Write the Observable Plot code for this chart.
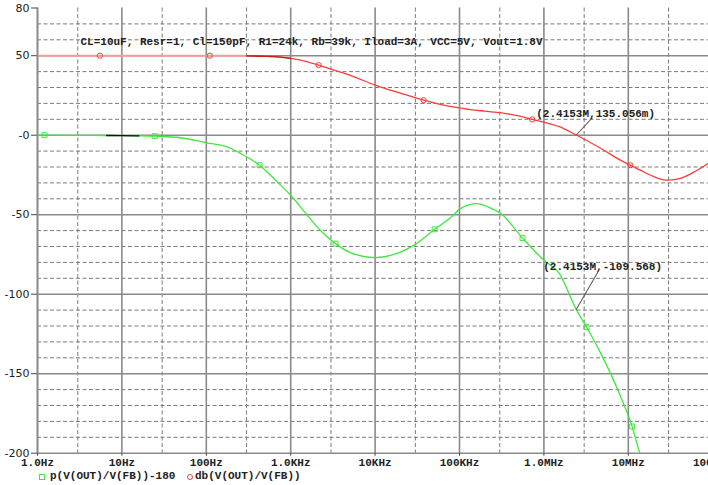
<!DOCTYPE html>
<html>
<head>
<meta charset="utf-8">
<script src="https://cdn.jsdelivr.net/npm/d3@7"></script>
<script src="https://cdn.jsdelivr.net/npm/@observablehq/plot@0.6"></script>
<style>
  html, body { margin: 0; padding: 0; background: #fff; overflow: hidden; width: 708px; height: 485px; }
  #chart svg { max-width: none !important; display: block; }
  #legend { position: relative; height: 15px; font: bold 11px "Liberation Mono", monospace; color: #222; }
  #legend span { position: absolute; top: 0; line-height: 13px; white-space: pre; }
  #legend i { position: absolute; top: 4px; width: 4px; height: 4px; border: 1px solid; }
</style>
</head>
<body>
<div id="chart"></div>
<div id="legend"></div>
<script>
// ---- data ----
const magFreq = [1, 10, 100, 200, 300, 500, 700, 1000, 1500, 2140, 3000, 5000, 10000, 20000, 37600, 60000, 100000, 135000, 200000, 316000, 500000, 728000, 1000000, 1500000, 2415300, 4700000, 8070000, 13900000, 20900000, 27500000, 41500000, 62500000, 88900000, 123000000];
const magDb   = [50, 50, 50, 50, 49.9, 49.6, 49.2, 48.3, 46.5, 44.1, 41.5, 37.8, 31.5, 26.4, 22.0, 19.3, 17.2, 16.1, 15.1, 14.0, 12.1, 9.9, 8.2, 5.5, 0.135, -8.2, -15.7, -22.0, -26.4, -28.3, -27.1, -22.7, -17.6, -12];

const phaseFreq = [1, 3, 6.6, 10, 15.9, 24.5, 50, 100, 180, 256, 428, 700, 1000, 1500, 2240, 3400, 5000, 10000, 20000, 28700, 50800, 80000, 102000, 162000, 220000, 309000, 559000, 1000000, 1500000, 2415300, 3200000, 4500000, 6200000, 8500000, 11100000, 13600000, 15000000];
const phaseDeg  = [0, -0.1, -0.2, -0.3, -0.4, -0.6, -1.6, -4.8, -7.5, -11.5, -18.9, -29.6, -37.8, -49, -59.8, -68.2, -73.7, -77, -73.5, -69.3, -59.2, -51.5, -46.2, -43, -45.2, -49.3, -64.7, -78.7, -86.5, -109.568, -120.7, -135, -150.1, -167, -183.2, -199.4, -206];

const magMarkerFreq = [5.48, 110, 2140, 37600, 728000, 10600000];
const magMarkerDb   = [50, 50, 44.1, 22.0, 9.9, -18.9];
const phaseMarkerFreq = [1.21, 24.5, 428, 3400, 50800, 559000, 3200000, 11100000];
const phaseMarkerDeg  = [0, -0.6, -18.9, -68.2, -59.2, -64.7, -120.7, -183.2];

const seriesNames = ["p(V(OUT)/V(FB))-180", "db(V(OUT)/V(FB))"];
const caption = "CL=10uF, Resr=1, Cl=150pF, R1=24k, Rb=39k, Iload=3A, VCC=5V, Vout=1.8V";
const cursorFreq = 2415300;
const cursorLabels = ["(2.4153M,135.056m)", "(2.4153M,-109.568)"];
const cursorValues = [0.135, -109.568];

const freqTicks = [1, 10, 100, 1e3, 1e4, 1e5, 1e6, 1e7, 1e8];
const freqTickLabels = ["1.0Hz", "10Hz", "100Hz", "1.0KHz", "10KHz", "100KHz", "1.0MHz", "10MHz", "100MHz"];
const minorFreq = [3, 30, 300, 3e3, 3e4, 3e5, 3e6, 3e7, 3e8];
const yTicks = [80, 50, 0, -50, -100, -150, -200];
const yTickLabels = ["80", "50", "-0", "-50", "-100", "-150", "-200"];
const majorY = [50, 0, -50, -100, -150, -200];
const minorY = [70, 60, 40, 30, 20, 10, -10, -20, -30, -40, -60, -70, -80, -90, -110, -120, -130, -140, -160, -170, -180, -190];

// ---- tables ----
const mag = magFreq.map((f, i) => ({f, v: magDb[i]}));
const phase = phaseFreq.map((f, i) => ({f, v: phaseDeg[i]}));
const magMarks = magMarkerFreq.map((f, i) => ({f, v: magMarkerDb[i]}));
const phaseMarks = phaseMarkerFreq.map((f, i) => ({f, v: phaseMarkerDeg[i]}));

const RED = "#ff3b3b", PINK = "#ff9a9a", GREEN = "#3fe83f";
const MONO = "Liberation Mono, monospace";
const decade = 84.4, left = 37, W = 760;

const chart = Plot.plot({
  width: W, height: 470,
  marginLeft: left, marginRight: 0, marginTop: 7.5, marginBottom: 17.3,
  x: {type: "log", domain: [1, Math.pow(10, (W - left) / decade)]},
  y: {domain: [-200, 80]},
  style: {background: "#fff", overflow: "hidden"},
  marks: [
    Plot.ruleY(minorY, {stroke: "#7a7a7a", strokeWidth: 1, strokeDasharray: "4,2.5"}),
    Plot.ruleX(minorFreq, {stroke: "#7a7a7a", strokeWidth: 1, strokeDasharray: "4,2.5"}),
    Plot.ruleY(majorY, {stroke: "#8a8a8a", strokeWidth: 1.6}),
    Plot.ruleX(freqTicks, {stroke: "#8a8a8a", strokeWidth: 1.6}),
    Plot.axisY(yTicks, {tickFormat: d => yTickLabels[yTicks.indexOf(d)], tickSize: 6, tickPadding: 2, fontSize: 11, fontFamily: "DejaVu Sans", stroke: "#444", fill: "#222", label: null}),
    Plot.axisX(freqTicks, {tickFormat: d => freqTickLabels[freqTicks.indexOf(d)], tickSize: 3, tickPadding: 2, fontSize: 11, fontFamily: MONO, fontWeight: "bold", stroke: "#444", fill: "#222", label: null}),
    // magnitude
    Plot.line(mag.filter(d => d.f <= 300), {x: "f", y: "v", stroke: PINK, strokeWidth: 2}),
    Plot.line(mag.filter(d => d.f >= 300), {x: "f", y: "v", stroke: RED, strokeWidth: 1.3, curve: "monotone-x", clip: true}),
    Plot.line(mag.filter(d => d.f >= 300 && d.f <= 1000), {x: "f", y: "v", stroke: "#c81e1e", strokeWidth: 1.3, curve: "monotone-x"}),
    Plot.dot(magMarks, {x: "f", y: "v", r: 2.6, stroke: RED, fill: "none", strokeWidth: 1}),
    // phase
    Plot.line(phase, {x: "f", y: "v", stroke: GREEN, strokeWidth: 1.3, curve: "monotone-x", clip: true}),
    Plot.line(phase.filter(d => d.f >= 6.6 && d.f <= 15.9), {x: "f", y: "v", stroke: "#111", strokeWidth: 1.3, curve: "monotone-x"}),
    Plot.dot(phaseMarks, {x: "f", y: "v", r: 2.8, symbol: "square", stroke: GREEN, fill: "none", strokeWidth: 1}),
    // caption
    Plot.text([caption], {frameAnchor: "top-left", dx: 43, dy: 29.5, textAnchor: "start", fontFamily: MONO, fontWeight: "bold", fontSize: 11, fill: "#222"}),
    // cursor annotations
    Plot.vector([0], {x: () => cursorFreq, y: () => cursorValues[0], anchor: "start", length: 23.3, rotate: 43.3, r: 0, stroke: "#555", strokeWidth: 1}),
    Plot.vector([0], {x: () => cursorFreq, y: () => cursorValues[1], anchor: "start", length: 43.9, rotate: 30, r: 0, stroke: "#555", strokeWidth: 1}),
    Plot.text([0], {x: () => cursorFreq, y: () => cursorValues[0], text: () => cursorLabels[0], dx: -40, dy: -22, textAnchor: "start", fontFamily: MONO, fontWeight: "bold", fontSize: 11, fill: "#222"}),
    Plot.text([0], {x: () => cursorFreq, y: () => cursorValues[1], text: () => cursorLabels[1], dx: -33, dy: -42.5, textAnchor: "start", fontFamily: MONO, fontWeight: "bold", fontSize: 11, fill: "#222"}),
    // left axis line
    Plot.ruleX([1], {stroke: "#8a8a8a", strokeWidth: 1.6})
  ]
});
document.getElementById("chart").appendChild(chart);

// legend below the SVG
const legend = document.getElementById("legend");
legend.innerHTML =
  `<i style="left:39px;border-color:${GREEN}"></i><span style="left:50px">${seriesNames[0]}</span>` +
  `<i style="left:187px;border-color:${RED};border-radius:50%"></i><span style="left:195px">${seriesNames[1]}</span>`;
</script>
</body>
</html>
